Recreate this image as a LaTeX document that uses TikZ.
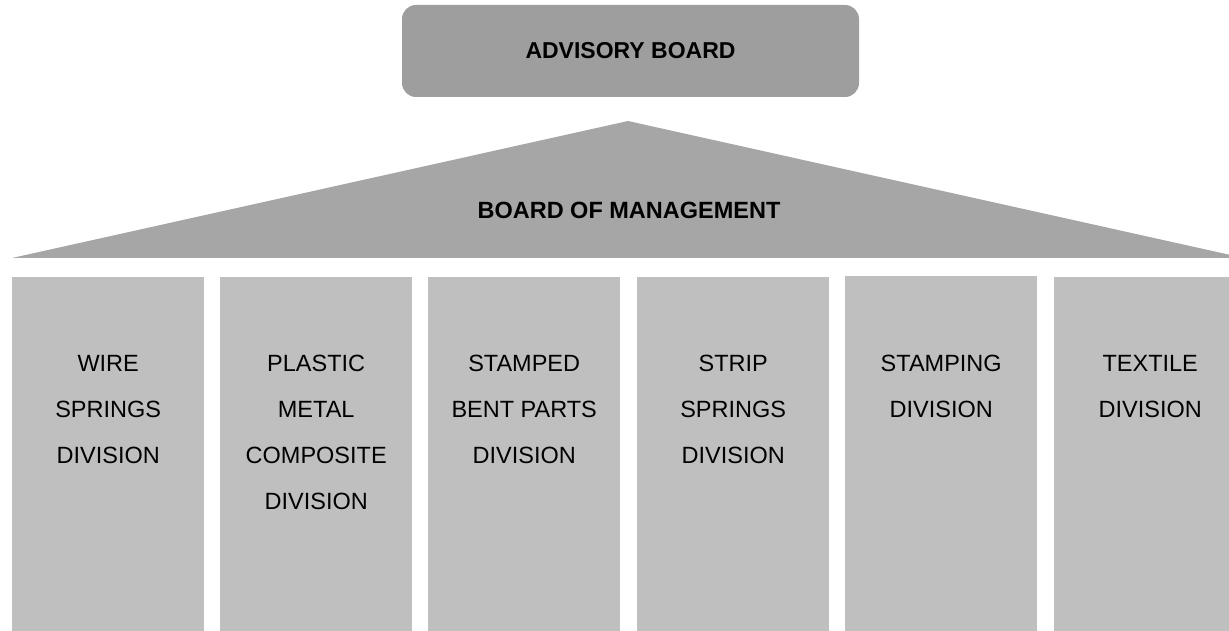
\documentclass[tikz,border=0pt]{standalone}
\usepackage{fontspec}
\setmainfont{Liberation Sans}
\usepackage{xcolor}
\usetikzlibrary{positioning}

\definecolor{boardgray}{HTML}{9E9E9E}
\definecolor{mgmtgray}{HTML}{A6A6A6}
\definecolor{divgray}{HTML}{BFBFBF}

\begin{document}
\begin{tikzpicture}[
    x=1pt,
    y=-1pt,
    board_node/.style={
        rectangle,
        fill=boardgray,
        rounded corners=14pt,
        minimum width=457pt,
        minimum height=92pt,
        align=center,
        font=\fontsize{23}{28}\selectfont\bfseries
    },
    mgmt_text/.style={
        inner sep=0pt,
        font=\fontsize{23.5}{28}\selectfont\bfseries
    },
    div_node/.style={
        rectangle,
        fill=divgray,
        inner sep=0pt,
        anchor=north west,
        minimum width=192pt,
        minimum height=355pt
    },
    div_text/.style={
        inner sep=0pt,
        align=center,
        font=\fontsize{23.5}{46}\selectfont
    }
]
    \useasboundingbox (0,0) rectangle (1229,631);
    \clip (0,0) rectangle (1229,631);

    % Advisory board on top
    \node[board_node] (advisory) at (630.5, 51) {ADVISORY BOARD};

    % Roof of the house: board of management
    \coordinate (roof_left) at (12, 258);
    \coordinate (roof_top) at (628, 121);
    \coordinate (roof_right) at (1244, 258);
    \fill[mgmtgray] (roof_left) -- (roof_top) -- (roof_right) -- cycle;
    \node[mgmt_text] (mgmt) at (629, 210.5) {BOARD OF MANAGEMENT};

    % Divisions as pillars
    \node[div_node] (wire) at (12, 277) {};
    \node[div_node] (plastic) at (220, 277) {};
    \node[div_node] (stamped) at (428, 277) {};
    \node[div_node] (strip) at (637, 277) {};
    \node[div_node] (stamping) at (845, 276) {};
    \node[div_node] (textile) at (1054, 277) {};

    % Division labels
    \node[div_text, below=78pt of wire.north] (wire_lbl) {WIRE\\SPRINGS\\DIVISION};
    \node[div_text, below=78pt of plastic.north] (plastic_lbl) {PLASTIC\\METAL\\COMPOSITE\\DIVISION};
    \node[div_text, below=78pt of stamped.north] (stamped_lbl) {STAMPED\\BENT PARTS\\DIVISION};
    \node[div_text, below=78pt of strip.north] (strip_lbl) {STRIP\\SPRINGS\\DIVISION};
    \node[div_text, below=79pt of stamping.north] (stamping_lbl) {STAMPING\\DIVISION};
    \node[div_text, below=78pt of textile.north] (textile_lbl) {TEXTILE\\DIVISION};

\end{tikzpicture}
\end{document}
